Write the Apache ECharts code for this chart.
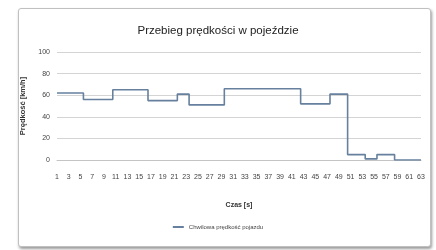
<!DOCTYPE html>
<html>
<head>
<meta charset="utf-8">
<script src="https://cdn.jsdelivr.net/npm/echarts@6/dist/echarts.min.js"></script>
<style>
  html, body { margin: 0; padding: 0; background: #fff; }
  #frame {
    position: absolute; left: 18px; top: 8px; width: 411px; height: 237px;
    border: 1px solid #c0c0c0; border-radius: 3px;
    box-shadow: 1px 2px 3px rgba(0,0,0,0.4);
    background: #fff;
  }
  #chart { position: absolute; left: 0; top: 0; width: 436px; height: 250px; }
</style>
</head>
<body>
<div id="frame"></div>
<div id="chart"></div>
<script>
// time in seconds (category axis)
const seconds = [
  1, 2, 3, 4, 5, 6, 7, 8, 9, 10, 11, 12, 13, 14, 15, 16, 17, 18, 19, 20,
  21, 22, 23, 24, 25, 26, 27, 28, 29, 30, 31, 32, 33, 34, 35, 36, 37, 38, 39, 40,
  41, 42, 43, 44, 45, 46, 47, 48, 49, 50, 51, 52, 53, 54, 55, 56, 57, 58, 59, 60,
  61, 62, 63
];

// speed, km/h
const speed = [
  62, 62, 62, 62, 62,
  56, 56, 56, 56, 56,
  65, 65, 65, 65, 65, 65,
  55, 55, 55, 55, 55,
  61, 61,
  51, 51, 51, 51, 51, 51,
  66, 66, 66, 66, 66, 66, 66, 66, 66, 66, 66, 66, 66,
  52, 52, 52, 52, 52,
  61, 61, 61,
  5, 5, 5,
  1, 1,
  5, 5, 5,
  0, 0, 0, 0, 0
];

const yTicks = [0, 20, 40, 60, 80, 100];

const chart = echarts.init(document.getElementById("chart"), null, { renderer: "canvas" });

const font = "'Liberation Sans', Arial, sans-serif";

chart.setOption({
  animation: false,
  textStyle: { fontFamily: font },
  title: {
    text: "Przebieg prędkości w pojeździe",
    left: "center",
    top: 20,
    textStyle: { fontFamily: font, fontSize: 11.5, fontWeight: "normal", color: "#222" }
  },
  legend: {
    bottom: 15,
    left: "center",
    itemWidth: 11,
    itemHeight: 2,
    itemGap: 4,
    icon: "rect",
    textStyle: { fontFamily: font, fontSize: 6, color: "#444" },
    data: ["Chwilowa prędkość pojazdu"]
  },
  grid: { left: 57, right: 15, top: 52, bottom: 90, containLabel: false },
  xAxis: {
    type: "category",
    data: seconds,
    boundaryGap: false,
    name: "Czas [s]",
    nameLocation: "middle",
    nameGap: 42,
    nameTextStyle: { fontFamily: font, fontSize: 7, fontWeight: "bold", color: "#333" },
    axisLine: { show: true, lineStyle: { color: "#c4c4c4" } },
    axisTick: { show: false },
    axisLabel: { interval: 1, fontSize: 7, color: "#444", margin: 14, fontFamily: font }
  },
  yAxis: {
    type: "value",
    min: yTicks[0],
    max: yTicks[yTicks.length - 1],
    interval: 20,
    name: "Prędkość [km/h]",
    nameLocation: "middle",
    nameGap: 17,
    nameRotate: 90,
    nameTextStyle: { fontFamily: font, fontSize: 7.5, fontWeight: "bold", color: "#333" },
    axisLine: { show: false },
    axisTick: { show: false },
    axisLabel: { fontSize: 7, color: "#444", margin: 7, fontFamily: font },
    splitLine: { lineStyle: { color: "#d4d4d4", width: 1 } }
  },
  series: [{
    name: "Chwilowa prędkość pojazdu",
    type: "line",
    step: "middle",
    data: speed,
    symbol: "none",
    lineStyle: { color: "#66809e", width: 1.6 },
    itemStyle: { color: "#66809e" }
  }]
});
</script>
</body>
</html>
